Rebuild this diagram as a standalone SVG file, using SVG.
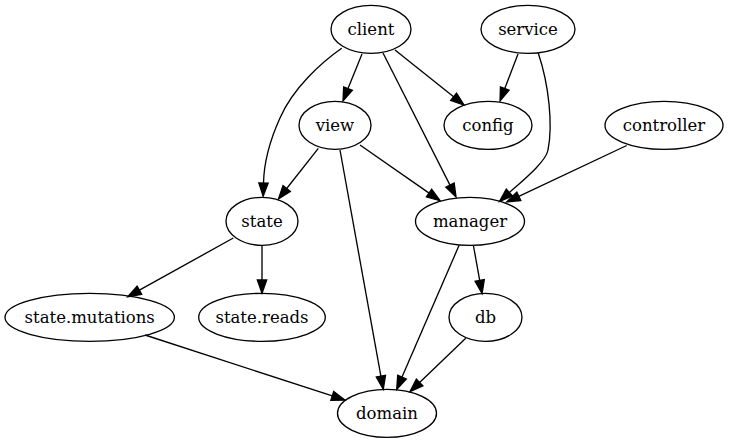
<svg xmlns="http://www.w3.org/2000/svg" width="729" height="443" viewBox="0 0 729 443">
<defs>
<style>
.node ellipse{fill:none;stroke:#000;stroke-width:1.33}
.node text{font-family:"DejaVu Serif",serif;font-size:16.5px;text-anchor:middle;fill:#000}
.edges path{fill:none;stroke:#000;stroke-width:1.33;marker-end:url(#arrow)}
</style>
<marker id="arrow" markerUnits="userSpaceOnUse" markerWidth="16" markerHeight="12" refX="0" refY="0" viewBox="-1 -6 16 12" orient="auto" overflow="visible">
<path d="M0,-4.67 L13.33,0 L0,4.67 Z" fill="#000" stroke="#000" stroke-width="1.33"/>
</marker>
</defs>
<rect width="729" height="443" fill="#fff"/>
<g class="edges" id="edges">
<path d="M362,54 L348,88.6"/>
<path d="M395,50 L453.6,96.7"/>
<path d="M383,53 L450,185.1"/>
<path d="M341.7,48.3 C322,62 293,88 280,118 C270,140 264,162 263.5,183"/>
<path d="M518,54 L504.8,88.5"/>
<path d="M538.3,53.3 C549,85 553,125 548,150 C546,162 521,182 509.4,192.5"/>
<path d="M626.7,145.5 L518.8,196.3"/>
<path d="M318.3,148.3 L286.7,188.5"/>
<path d="M360,145 L429.1,193.1"/>
<path d="M340,150 L380.9,376.2"/>
<path d="M233.3,238 L139.4,290.2"/>
<path d="M262,245.7 L262,280"/>
<path d="M473.5,246 L479.7,280.4"/>
<path d="M459,245.5 L402,377.1"/>
<path d="M465.7,338.3 L419.6,382.5"/>
<path d="M145,335 L332.3,395.9"/>
</g>
<g class="node" id="client"><ellipse cx="371" cy="29.33" rx="40" ry="24"/><text x="371" y="35">client</text></g>
<g class="node" id="service"><ellipse cx="528" cy="29.33" rx="47" ry="24"/><text x="528" y="35">service</text></g>
<g class="node" id="view"><ellipse cx="335" cy="125.33" rx="36" ry="24"/><text x="335" y="131">view</text></g>
<g class="node" id="config"><ellipse cx="488" cy="125.33" rx="44" ry="24"/><text x="488" y="131">config</text></g>
<g class="node" id="controller"><ellipse cx="664" cy="125.33" rx="59" ry="24"/><text x="664" y="131">controller</text></g>
<g class="node" id="state"><ellipse cx="262" cy="221.33" rx="36" ry="24"/><text x="262" y="227">state</text></g>
<g class="node" id="manager"><ellipse cx="470" cy="221.33" rx="54.5" ry="24"/><text x="470" y="227">manager</text></g>
<g class="node" id="state.mutations"><ellipse cx="89.7" cy="317.33" rx="84.7" ry="24"/><text x="89.7" y="323">state.mutations</text></g>
<g class="node" id="state.reads"><ellipse cx="262" cy="317.33" rx="63.3" ry="24"/><text x="262" y="323">state.reads</text></g>
<g class="node" id="db"><ellipse cx="485.5" cy="317.33" rx="36.5" ry="24"/><text x="485.5" y="323">db</text></g>
<g class="node" id="domain"><ellipse cx="387" cy="413.33" rx="49.5" ry="24"/><text x="387" y="419">domain</text></g>
</svg>
